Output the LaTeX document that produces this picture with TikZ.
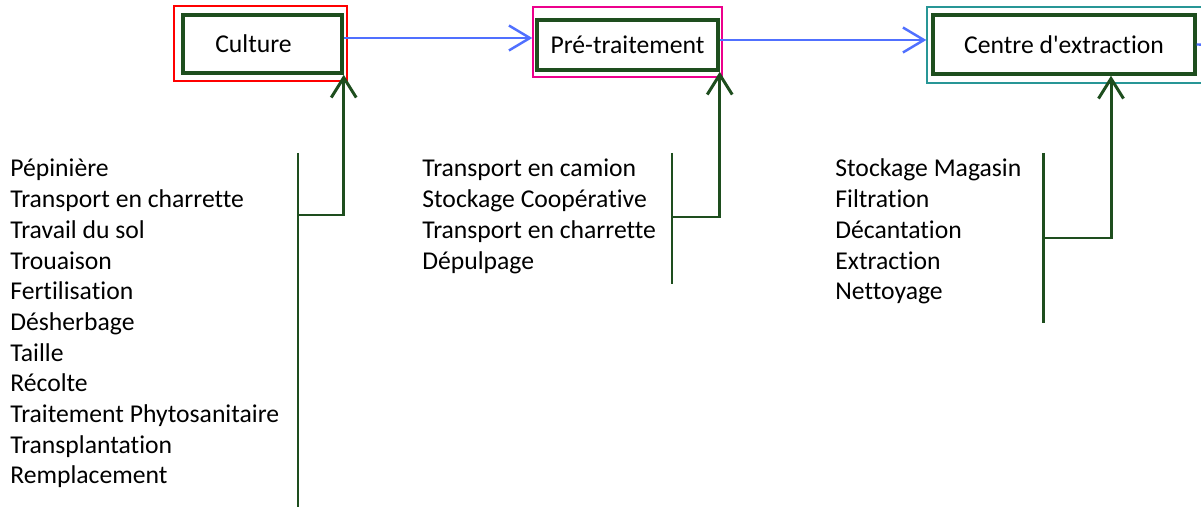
\documentclass[tikz,border=0pt]{standalone}
\usepackage{fontspec}
\setmainfont[Ligatures=NoCommon]{Carlito}
\usetikzlibrary{arrows.meta,calc}
\definecolor{dkgreen}{RGB}{30,78,30}
\definecolor{flowblue}{RGB}{80,112,255}
\definecolor{frameteal}{RGB}{40,150,150}
\begin{document}
\begin{tikzpicture}[x=0.02cm,y=-0.02cm,
  font=\fontsize{14.6}{17.5}\selectfont,
  stage/.style={draw=dkgreen,line width=2pt,inner sep=0pt,
    minimum width=#1},
  frame/.style={draw=#1,line width=0.8pt,inner sep=0pt},
  flow/.style={draw=flowblue,line width=1.4pt,
    -{Straight Barb[length=0.42cm,width=0.5cm]}},
  feed/.style={draw=dkgreen,line width=1.7pt,
    -{Straight Barb[length=0.4cm,width=0.5cm]}},
  brace/.style={draw=dkgreen,line width=1.7pt},
  item/.style={anchor=base west,inner sep=0pt}]
        \useasboundingbox (0,0) rectangle (1201,509);
        \clip (0,0) rectangle (1201,509);
        % stages
        \node [frame=red,minimum width=3.46cm,minimum height=1.5cm] (cuf) at (260.5,43.5) {};
        \node [frame=magenta,minimum width=3.78cm,minimum height=1.4cm] (prf) at (627.5,42) {};
        \node [frame=frameteal,minimum width=5.76cm,minimum height=1.52cm] (exf) at (1071,45) {};
        \node [stage=3.18cm,minimum height=1.16cm] (cu) at (262.5,44) {\hspace*{-0.36cm}Culture};
        \node [stage=3.62cm,minimum height=1cm] (pr) at (627.5,45) {Pré-traitement};
        \node [stage=5.24cm,minimum height=1.18cm] (ex) at (1064,44.5) {Centre d\textquotesingle extraction};
        % flow between stages
        \coordinate (a1) at ($(cu.east)+(0,-6)$);
        \coordinate (a2) at ($(pr.east)+(0,-5)$);
        \coordinate (out) at (1240,45);
        \draw [flow] (a1) -- (a1 -| prf.west);
        \draw [flow] (a2) -- (a2 -| exf.west);
        \draw [flow] (ex.east) -- (out);
        % operations
        \foreach \t [count=\i] in {Pépinière,Transport en charrette,Travail du sol,
          Trouaison,Fertilisation,Désherbage,Taille,Récolte,
          Traitement Phytosanitaire,Transplantation,Remplacement}
          \node [item] (cu\i) at (10,{177+30.7*(\i-1)}) {\t};
        \foreach \t [count=\i] in {Transport en camion,Stockage Coopérative,
          Transport en charrette,Dépulpage}
          \node [item] (pr\i) at (422,{177+30.7*(\i-1)}) {\t};
        \foreach \t [count=\i] in {Stockage Magasin,Filtration,Décantation,
          Extraction,Nettoyage}
          \node [item] (ex\i) at (835,{177+30.7*(\i-1)}) {\t};
        % brackets
        \coordinate (b1t) at (298,153);
        \coordinate (b1b) at (298,507);
        \coordinate (j1) at (298,215);
        \coordinate (b2t) at (672,153);
        \coordinate (b2b) at (672,284);
        \coordinate (j2) at (672,217);
        \coordinate (b3t) at (1043,153);
        \coordinate (b3b) at (1043,323);
        \coordinate (j3) at (1043,238);
        \draw [brace] (b1t) -- (b1b);
        \draw [brace] (b2t) -- (b2b);
        \draw [brace] (b3t) -- (b3b);
        \draw [feed] (j1) -| (cu.south east);
        \draw [feed] (j2) -| (pr.south east);
        \draw [feed] (j3) -| ($(ex.south)+(47,0)$);
    \end{tikzpicture}
\end{document}
